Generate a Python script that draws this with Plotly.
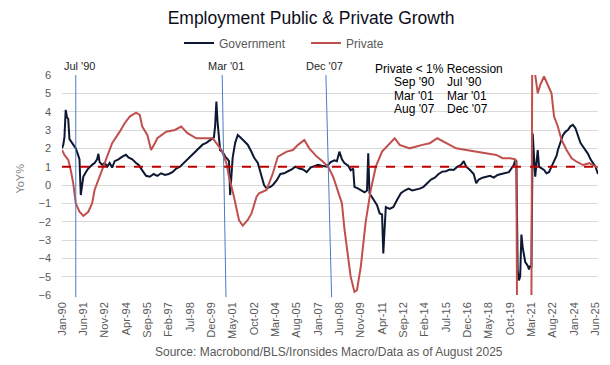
import plotly.graph_objects as go

# ---------------- data (YoY %) ----------------
gov_dates = [
    "1990-01","1990-02","1990-03","1990-04","1990-05","1990-06","1990-07","1990-08","1990-09","1990-10",
    "1990-11","1990-12","1991-02","1991-03","1991-04","1991-05","1991-06","1991-08","1991-10","1992-01",
    "1992-03","1992-05","1992-06","1992-07","1992-09","1992-11","1993-01","1993-03","1993-05","1993-07",
    "1993-10","1994-01","1994-04","1994-06","1994-09","1994-12","1995-02","1995-05","1995-08","1995-11",
    "1996-02","1996-05","1996-08","1996-11","1997-02","1997-05","1997-08","1997-11","1998-02","1998-05",
    "1998-08","1998-11","1999-02","1999-05","1999-08","1999-11","2000-01","2000-02","2000-03","2000-04",
    "2000-05","2000-06","2000-07","2000-09","2000-11","2001-01","2001-02","2001-03","2001-04","2001-05",
    "2001-07","2001-09","2001-11","2002-02","2002-05","2002-08","2002-10","2003-01","2003-03","2003-06",
    "2003-08","2003-11","2004-01","2004-04","2004-07","2004-10","2005-01","2005-04","2005-07","2005-10",
    "2006-01","2006-04","2006-07","2006-09","2007-01","2007-04","2007-08","2007-11","2008-02","2008-04",
    "2008-06","2008-08","2008-10","2009-01","2009-03","2009-05","2009-06","2009-09","2009-12","2010-02",
    "2010-04","2010-05","2010-06","2010-09","2010-12","2011-02","2011-04","2011-05","2011-06","2011-07",
    "2011-10","2012-01","2012-04","2012-07","2012-10","2013-01","2013-04","2013-07","2013-10","2014-01",
    "2014-04","2014-07","2014-10","2015-01","2015-04","2015-07","2015-10","2016-01","2016-04","2016-07",
    "2016-09","2016-11","2017-02","2017-05","2017-07","2017-09","2017-12","2018-03","2018-06","2018-09",
    "2018-12","2019-03","2019-06","2019-09","2019-11","2020-01","2020-02","2020-03","2020-04","2020-05",
    "2020-06","2020-07","2020-08","2020-09","2020-10","2020-11","2020-12","2021-01","2021-02","2021-03",
    "2021-04","2021-05","2021-06","2021-07","2021-08","2021-09","2021-11","2022-01","2022-03","2022-05",
    "2022-07","2022-09","2022-11","2022-12","2023-02","2023-04","2023-06","2023-08","2023-10","2023-12",
    "2024-02","2024-04","2024-06","2024-08","2024-10","2024-12","2025-02","2025-04","2025-06","2025-08",
]
gov_values = [
    2.0, 2.2, 2.6, 4.1, 3.7, 3.6, 2.5, 2.4, 2.3, 2.2,
    2.1, 2.0, 1.6, 1.4, -0.55, 0.0, 0.45, 0.7, 0.9, 1.1,
    1.2, 1.4, 1.7, 1.25, 1.1, 1.2, 1.0, 1.2, 0.95, 1.3,
    1.4, 1.55, 1.65, 1.5, 1.4, 1.2, 1.1, 0.8, 0.5, 0.45,
    0.6, 0.5, 0.64, 0.55, 0.6, 0.7, 0.9, 1.0, 1.2, 1.4,
    1.55, 1.8, 2.0, 2.2, 2.3, 2.45, 2.5, 2.6, 3.2, 4.55,
    3.4, 2.4, 1.9, 1.8, 1.55, 1.4, 1.3, -0.55, 0.5, 1.5,
    2.3, 2.73, 2.6, 2.4, 2.2, 1.8, 1.5, 1.2, 0.7, 0.0,
    -0.18, -0.1, 0.0, 0.25, 0.6, 0.64, 0.75, 0.85, 1.0, 0.9,
    0.85, 0.7, 0.95, 1.0, 1.1, 1.05, 1.0, 1.25, 1.35, 1.3,
    1.82, 1.4, 1.2, 1.05, 0.8, 0.9, -0.1, -0.2, -0.3, -0.4,
    -0.3, 1.73, -0.45, -0.8, -1.1, -1.55, -1.6, -3.73, -2.5, -1.2,
    -1.3, -1.2, -0.8, -0.45, -0.3, -0.2, -0.3, -0.27, -0.2, -0.1,
    0.1, 0.3, 0.4, 0.6, 0.73, 0.75, 0.85, 0.82, 1.0, 1.1,
    1.3, 1.0, 0.82, 0.6, 0.1, 0.3, 0.4, 0.45, 0.5, 0.4,
    0.55, 0.6, 0.64, 0.7, 0.9, 1.1, 1.37, 1.3, -4.6, -5.2,
    -5.0, -2.7, -3.4, -3.9, -4.2, -4.3, -4.4, -4.6, -4.4, -4.5,
    2.8, 1.6, 0.45, 1.2, 1.9, 1.0, 0.9, 0.82, 0.64, 0.7,
    1.0, 1.3, 1.6, 1.9, 2.3, 2.7, 2.9, 3.0, 3.2, 3.28,
    3.1, 2.7, 2.3, 2.1, 1.9, 1.7, 1.4, 1.2, 1.0, 0.6,
]

priv_dates = [
    "1990-01","1990-03","1990-06","1990-08","1990-10","1990-12","1991-03","1991-06","1991-10","1992-01",
    "1992-03","1992-06","1992-10","1993-01","1993-05","1993-11","1994-03","1994-07","1994-12","1995-03",
    "1995-05","1995-09","1995-12","1996-03","1996-05","1996-12","1997-07","1997-12","1998-05","1998-12",
    "1999-08","2000-01","2000-04","2000-08","2000-12","2001-02","2001-06","2001-10","2002-01","2002-05",
    "2002-08","2002-12","2003-02","2003-08","2004-01","2004-05","2004-12","2005-05","2005-09","2006-02",
    "2006-06","2006-12","2007-05","2007-09","2008-01","2008-05","2008-08","2008-10","2009-01","2009-03",
    "2009-06","2009-08","2009-11","2010-03","2010-07","2010-11","2011-04","2011-09","2012-02","2012-06",
    "2013-02","2013-12","2014-06","2014-12","2015-07","2016-03","2016-11","2017-07","2018-03","2018-11",
    "2019-04","2019-10","2020-02","2020-03","2020-04","2020-06","2020-09","2020-12","2021-03","2021-04",
    "2021-05","2021-06","2021-08","2021-10","2022-01","2022-04","2022-07","2022-09","2022-12","2023-03",
    "2023-07","2023-11","2024-03","2024-08","2025-01","2025-05","2025-08",
]
priv_values = [
    1.91, 1.64, 1.37, 0.82, 0.09, -1.0, -1.46, -1.69, -1.46, -1.0,
    -0.27, 0.27, 1.0, 1.55, 2.28, 2.91, 3.37, 3.73, 3.95, 3.83,
    3.19, 2.73, 1.91, 2.28, 2.55, 2.91, 3.0, 3.19, 2.83, 2.55,
    2.55, 2.55, 2.28, 1.91, 1.19, 0.45, -0.64, -1.91, -2.22, -1.91,
    -1.55, -0.64, -0.45, -0.27, 0.64, 1.55, 1.82, 1.91, 2.19, 2.46,
    2.0, 1.55, 1.27, 1.0, 0.45, -0.45, -1.0, -2.4, -4.0, -5.0,
    -5.83, -5.74, -4.46, -2.0, -0.27, 1.0, 1.82, 2.19, 2.55, 2.19,
    2.0, 2.19, 2.28, 2.55, 2.28, 2.0, 1.91, 1.82, 1.73, 1.64,
    1.46, 1.46, 1.4, 1.1, -14.0, -10.0, -7.5, -6.8, -6.2, 15.0,
    11.0, 6.0, 5.0, 5.46, 5.92, 5.46, 5.0, 3.73, 3.19, 2.46,
    1.91, 1.46, 1.27, 1.09, 1.19, 1.04, 0.97,
]

threshold = 1.0
x_ticks = ["1990-01","1991-06","1992-11","1994-04","1995-09","1997-02","1998-07","1999-12","2001-05",
           "2002-10","2004-03","2005-08","2007-01","2008-06","2009-11","2011-04","2012-09","2014-02",
           "2015-07","2016-12","2018-05","2019-10","2021-03","2022-08","2024-01","2025-06"]
y_ticks = [6, 5, 4, 3, 2, 1, 0, -1, -2, -3, -4, -5, -6]

recession_lines = [("Jul '90", "1990-12-01", "1990-12-01", "1990-01-01", "left"),
                   ("Mar '01", "2000-08-20", "2000-11-20", "2000-11-10", "center"),
                   ("Dec '07", "2007-07-10", "2007-11-25", "2007-05-25", "center")]
table_rows = [("Sep '90", "Jul '90"), ("Mar '01", "Mar '01"), ("Aug '07", "Dec '07")]

FONT = "Liberation Sans, Arial, sans-serif"
NARROW = "Liberation Sans Narrow, Arial Narrow, Liberation Sans, sans-serif"

fig = go.Figure()
fig.add_trace(go.Scatter(x=gov_dates, y=gov_values, mode="lines", name="Government",
                         line=dict(color="#0e1833", width=2)))
fig.add_trace(go.Scatter(x=priv_dates, y=priv_values, mode="lines", name="Private",
                         line=dict(color="#c0504d", width=2)))

# 1% threshold
fig.add_shape(type="line", xref="paper", x0=0, x1=1, yref="y", y0=threshold, y1=threshold,
              line=dict(color="#c00000", width=2, dash="dash"), layer="above")

annotations = []
for label, xa, xb, xl, anchor in recession_lines:
    fig.add_shape(type="line", xref="x", x0=xa, x1=xb, yref="paper", y0=1.0, y1=-0.01,
                  line=dict(color="#4a7cc7", width=1), layer="above")
    annotations.append(dict(x=xl, xref="x", y=1.04, yref="paper", text=label, showarrow=False,
                            xanchor=anchor, yanchor="middle",
                            font=dict(family=NARROW, size=11, color="#262626")))

annotations.append(dict(x=0.580, xref="paper", y=1.027, yref="paper", text="Private < 1% Recession",
                        showarrow=False, xanchor="left", yanchor="middle",
                        font=dict(family=FONT, size=12, color="#000000")))
row_y = [0.9695, 0.906, 0.845]
for (c1, c2), yy in zip(table_rows, row_y):
    annotations.append(dict(x=0.616, xref="paper", y=yy, yref="paper", text=c1, showarrow=False,
                            xanchor="left", yanchor="middle",
                            font=dict(family=FONT, size=12, color="#000000")))
    annotations.append(dict(x=0.7146, xref="paper", y=yy, yref="paper", text=c2, showarrow=False,
                            xanchor="left", yanchor="middle",
                            font=dict(family=FONT, size=12, color="#000000")))

annotations.append(dict(x=-0.078, xref="paper", y=0.53, yref="paper", text="YoY%", textangle=-90,
                        showarrow=False, xanchor="center", yanchor="middle",
                        font=dict(family=FONT, size=11, color="#7f7f7f")))
annotations.append(dict(x=0.498, xref="paper", y=-0.259, yref="paper",
                        text="Source: Macrobond/BLS/Ironsides Macro/Data as of August 2025",
                        showarrow=False, xanchor="center", yanchor="middle",
                        font=dict(family=FONT, size=12, color="#595959")))

fig.update_layout(
    width=610, height=365,
    margin=dict(l=62, r=12, t=75, b=70, autoexpand=False),
    paper_bgcolor="white", plot_bgcolor="white",
    title=dict(text="Employment Public & Private Growth", x=0.51, xanchor="center",
               y=0.951, yanchor="middle",
               font=dict(family=FONT, size=17.5, color="#0d0d1a")),
    legend=dict(orientation="h", x=0.2183, xanchor="left", y=1.145, yanchor="middle",
                font=dict(family=FONT, size=12, color="#595959"), bgcolor="rgba(0,0,0,0)",
                itemwidth=30, entrywidth=82, entrywidthmode="pixels"),
    showlegend=True,
    annotations=annotations,
    xaxis=dict(type="date", range=["1990-01-01", "2025-08-01"], tickvals=x_ticks,
               tickformat="%b-%y", tickangle=-90, showgrid=False, zeroline=False,
               showline=False, ticks="", ticklabelstandoff=4, automargin=False,
               tickfont=dict(family=FONT, size=11, color="#595959")),
    yaxis=dict(range=[-6, 6], tickvals=y_ticks, ticksuffix="%", showgrid=True,
               gridcolor="#d9d9d9", gridwidth=1, zeroline=False, showline=False,
               ticks="", ticklabelstandoff=10, automargin=False,
               tickfont=dict(family=FONT, size=11, color="#595959")),
)

fig.write_html("out.html", config={"displayModeBar": False},
               post_script="document.body.style.margin='0px';")
